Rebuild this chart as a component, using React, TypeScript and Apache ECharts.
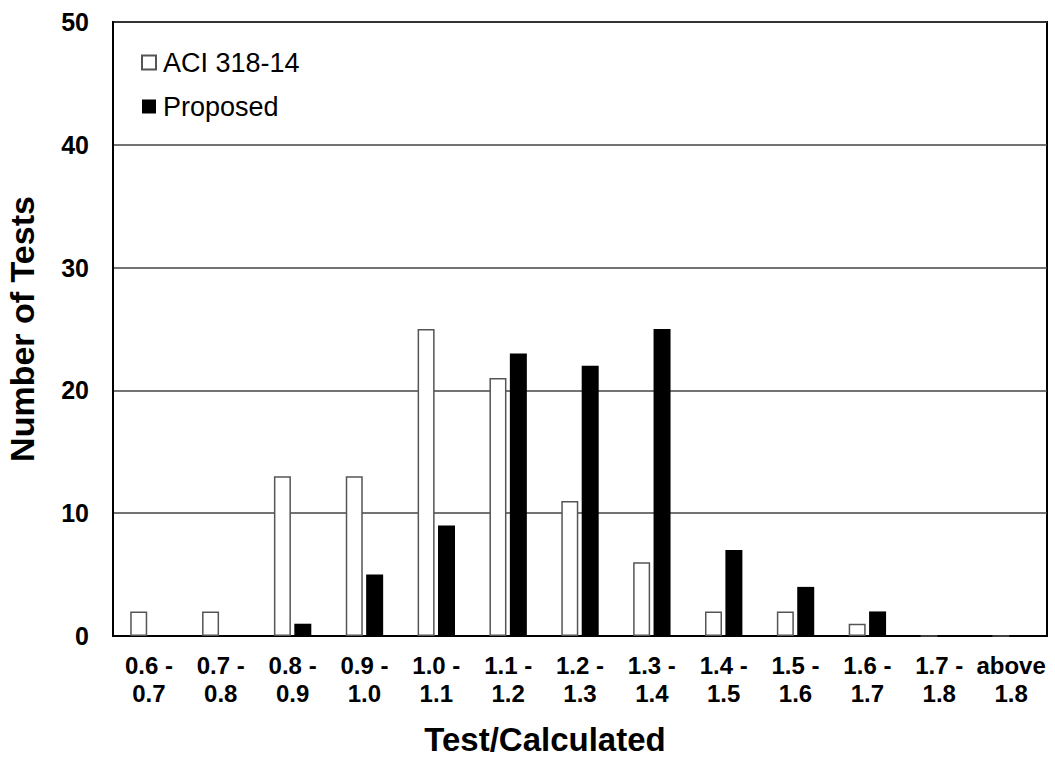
import React, { useEffect, useRef } from "react";
import * as echarts from "echarts";

const categories = ["0.6 -\n0.7", "0.7 -\n0.8", "0.8 -\n0.9", "0.9 -\n1.0", "1.0 -\n1.1", "1.1 -\n1.2", "1.2 -\n1.3", "1.3 -\n1.4", "1.4 -\n1.5", "1.5 -\n1.6", "1.6 -\n1.7", "1.7 -\n1.8", "above\n1.8"];
const aciValues = [2, 2, 13, 13, 25, 21, 11, 6, 2, 2, 1, 0, 0];
const proposedValues = [0, 0, 1, 5, 9, 23, 22, 25, 7, 4, 2, 0, 0];
const seriesNames = ["ACI 318-14", "Proposed"];

const FONT = 'Arial, "Liberation Sans", sans-serif';

export default function App() {
  const ref = useRef<HTMLDivElement>(null);
  useEffect(() => {
    const chart = echarts.init(ref.current!, null, { renderer: "svg" });
    chart.setOption({
      animation: false,
      backgroundColor: "#fff",
      textStyle: { fontFamily: FONT, color: "#000" },
      grid: {
        left: 113,
        right: 8,
        top: 22,
        bottom: 121,
        outerBoundsMode: "none",
        containLabel: false,
        show: true,
        borderColor: "#000",
        borderWidth: 2,
        backgroundColor: "transparent",
      },
      legend: {
        orient: "vertical",
        left: 136,
        top: 44,
        icon: "rect",
        itemWidth: 14,
        itemHeight: 14,
        itemGap: 17,
        textStyle: { fontFamily: FONT, fontSize: 27, color: "#000", padding: [0, 0, 0, 2] },
        data: seriesNames,
      },
      xAxis: {
        type: "category",
        data: categories,
        name: "Test/Calculated",
        nameLocation: "middle",
        nameGap: 88,
        nameTextStyle: { fontFamily: FONT, fontSize: 33, lineHeight: 30, fontWeight: "bold", color: "#000", padding: [0, 70, 0, 0] },
        axisLine: { lineStyle: { color: "#000", width: 2 } },
        axisTick: { show: false },
        axisLabel: { fontFamily: FONT, fontSize: 24, fontWeight: "bold", color: "#000", lineHeight: 28, margin: 15, interval: 0 },
      },
      yAxis: {
        type: "value",
        min: 0,
        max: 50,
        interval: 10,
        name: "Number of Tests",
        nameLocation: "middle",
        nameGap: 74,
        nameTextStyle: { fontFamily: FONT, fontSize: 34, fontWeight: "bold", color: "#000" },
        axisLine: { show: true, lineStyle: { color: "#000", width: 2 } },
        axisTick: { show: false },
        axisLabel: { fontFamily: FONT, fontSize: 25, fontWeight: "bold", color: "#000", margin: 24 },
        splitLine: { lineStyle: { color: "#444", width: 1.5 } },
      },
      series: [
        {
          name: seriesNames[0],
          type: "bar",
          data: aciValues,
          barWidth: 17,
          barGap: "20%",
          itemStyle: { color: "#fff", borderColor: "#555", borderWidth: 1.5 },
        },
        {
          name: seriesNames[1],
          type: "bar",
          data: proposedValues,
          barWidth: 17,
          barGap: "20%",
          itemStyle: { color: "#000", borderColor: "#000", borderWidth: 0 },
        },
      ],
    });
    return () => chart.dispose();
  }, []);
  return <div ref={ref} style={{ width: 1055, height: 757, position: "absolute", left: 0, top: 0 }} />;
}
